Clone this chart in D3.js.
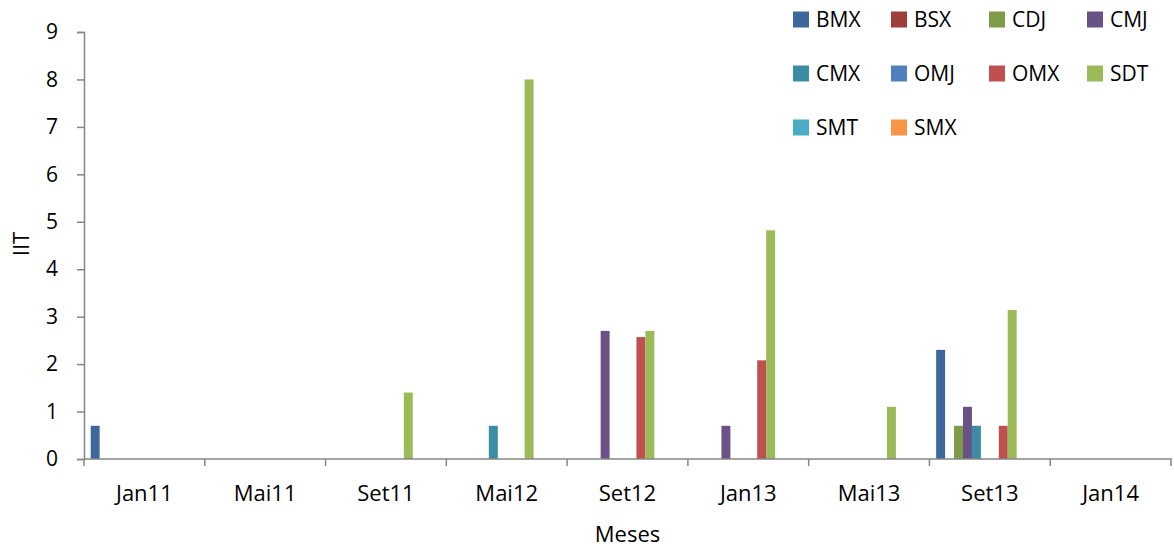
<!DOCTYPE html>
<html>
<head>
<meta charset="utf-8">
<script src="https://cdn.jsdelivr.net/npm/d3@7"></script>
<style>
  body { margin: 0; background: #fff; }
  svg { display: block; font-family: "Open Sans", sans-serif; }
</style>
</head>
<body>
<svg id="chart" width="1174" height="552"></svg>
<script>
// categorias (meses)
const meses = ["Jan11", "Mai11", "Set11", "Mai12", "Set12", "Jan13", "Mai13", "Set13", "Jan14"];

// series in plot order; two empty slots have no legend entry
const series = ["BMX", "BSX", "CDJ", "CMJ", "CMX", "_h1", "OMJ", "OMX", "SDT", "_h2", "SMT", "SMX"];
const legendSeries = ["BMX", "BSX", "CDJ", "CMJ", "CMX", "OMJ", "OMX", "SDT", "SMT", "SMX"];
const colors = ["#3e679b", "#a03e3b", "#7e9b48", "#6a5287", "#3c8da3", "#c77a35",
                "#4f81bd", "#c0504d", "#9bbb59", "#8064a2", "#4bacc6", "#f79646"];

// IIT values per series, one per month
const BMX = [0.7, 0, 0, 0, 0, 0, 0, 2.3, 0];
const BSX = [0, 0, 0, 0, 0, 0, 0, 0, 0];
const CDJ = [0, 0, 0, 0, 0, 0, 0, 0.7, 0];
const CMJ = [0, 0, 0, 0, 2.7, 0.7, 0, 1.1, 0];
const CMX = [0, 0, 0, 0.7, 0, 0, 0, 0.7, 0];
const OMJ = [0, 0, 0, 0, 0, 0, 0, 0, 0];
const OMX = [0, 0, 0, 0, 2.57, 2.08, 0, 0.7, 0];
const SDT = [0, 0, 1.4, 8.0, 2.7, 4.82, 1.1, 3.14, 0];
const SMT = [0, 0, 0, 0, 0, 0, 0, 0, 0];
const SMX = [0, 0, 0, 0, 0, 0, 0, 0, 0];
const empty = [0, 0, 0, 0, 0, 0, 0, 0, 0];

const values = {BMX, BSX, CDJ, CMJ, CMX, _h1: empty, OMJ, OMX, SDT, _h2: empty, SMT, SMX};
const yTicks = [0, 1, 2, 3, 4, 5, 6, 7, 8, 9];

const svg = d3.select("#chart");
const axisColor = "#868686";
const mLeft = 84, mRight = 1171, mTop = 32, mBottom = 459;

const x = d3.scaleBand().domain(meses).range([mLeft, mRight]).padding(0);
// gap width 150% -> 0.75 bar each side
const xs = d3.scaleBand().domain(series).range([0, x.bandwidth()])
  .paddingInner(0).paddingOuter(0.75);
const y = d3.scaleLinear().domain([0, 9]).range([mBottom, mTop]);
const color = d3.scaleOrdinal().domain(series).range(colors);

// bars
const rows = [];
meses.forEach((m, i) => {
  series.forEach(s => {
    if (values[s][i] > 0) rows.push({mes: m, serie: s, v: values[s][i]});
  });
});

svg.append("g").selectAll("rect").data(rows).join("rect")
  .attr("x", d => x(d.mes) + xs(d.serie))
  .attr("y", d => y(d.v))
  .attr("width", xs.bandwidth())
  .attr("height", d => y(0) - y(d.v))
  .attr("fill", d => color(d.serie));

// y axis
const yAxis = svg.append("g").attr("transform", `translate(${mLeft},0)`)
  .call(d3.axisLeft(y).tickValues(yTicks).tickSize(7).tickPadding(19).tickFormat(d3.format("d")));
yAxis.select(".domain").attr("stroke", axisColor).attr("stroke-width", 1.5);
yAxis.selectAll(".tick line").attr("stroke", axisColor).attr("stroke-width", 1.5);
yAxis.selectAll(".tick text").attr("fill", "#000").style("font-size", "21px")
  .style("font-family", "Open Sans, sans-serif");

// x axis, ticks between categories
const xAxisG = svg.append("g").attr("transform", `translate(0,${mBottom})`);
xAxisG.append("line").attr("x1", mLeft).attr("x2", mRight + 1)
  .attr("stroke", axisColor).attr("stroke-width", 1.5);
const boundaries = meses.map(m => x(m)).concat([mRight]);
xAxisG.selectAll("line.tk").data(boundaries).join("line").attr("class", "tk")
  .attr("x1", d => d).attr("x2", d => d).attr("y1", 0).attr("y2", 7)
  .attr("stroke", axisColor).attr("stroke-width", 1.5);
xAxisG.selectAll("text").data(meses).join("text")
  .attr("x", d => x(d) + x.bandwidth() / 2)
  .attr("y", 42)
  .attr("text-anchor", "middle")
  .style("font-size", "22px")
  .text(d => d);

// axis titles
svg.append("text").attr("x", (mLeft + mRight) / 2).attr("y", 542)
  .attr("text-anchor", "middle").style("font-size", "22px").text("Meses");
svg.append("text").attr("transform", "translate(29,244) rotate(-90)")
  .attr("text-anchor", "middle").style("font-size", "22px").text("IIT");

// legend, 4 per row
const legend = svg.append("g").selectAll("g").data(legendSeries).join("g")
  .attr("transform", (d, i) => `translate(${793 + (i % 4) * 98},${19.5 + Math.floor(i / 4) * 54})`);
legend.append("rect").attr("x", 0).attr("y", -8).attr("width", 16).attr("height", 16)
  .attr("fill", d => color(d));
legend.append("text").attr("x", 23).attr("y", 0).attr("dy", "0.35em")
  .style("font-size", "21px").text(d => d);
</script>
</body>
</html>
